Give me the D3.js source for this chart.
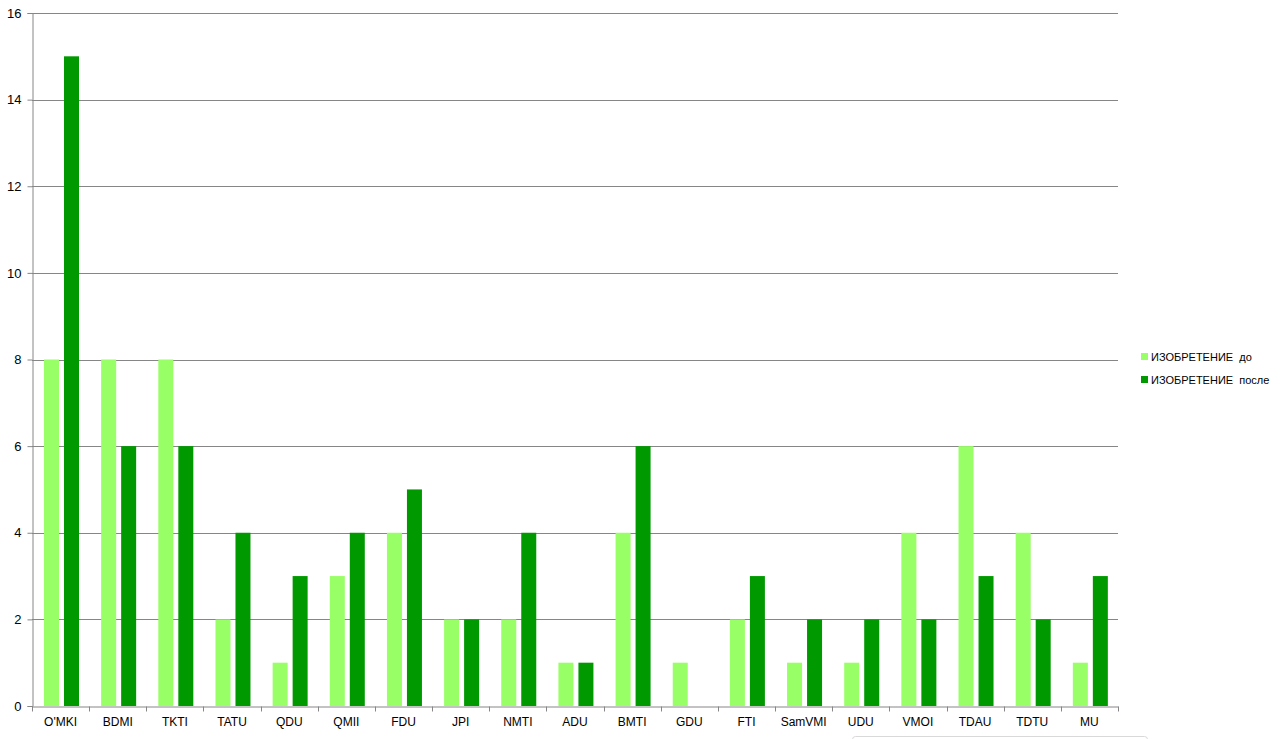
<!DOCTYPE html>
<html>
<head>
<meta charset="utf-8">
<script src="https://cdn.jsdelivr.net/npm/d3@7"></script>
<style>
  body { margin: 0; background: #fff; }
  text { font-family: "Liberation Sans", Arial, sans-serif; fill: #000; }
</style>
</head>
<body>
<div id="chart"></div>
<script>
let categories = ["O'MKI", "BDMI", "TKTI", "TATU", "QDU", "QMII", "FDU", "JPI", "NMTI", "ADU",
                  "BMTI", "GDU", "FTI", "SamVMI", "UDU", "VMOI", "TDAU", "TDTU", "MU"];
let before = [8, 8, 8, 2, 1, 3, 4, 2, 2, 1, 4, 1, 2, 1, 1, 4, 6, 4, 1];
let after = [15, 6, 6, 4, 3, 4, 5, 2, 4, 1, 6, 0, 3, 2, 2, 2, 3, 2, 3];
let seriesNames = ["ИЗОБРЕТЕНИЕ  до", "ИЗОБРЕТЕНИЕ  после"];
let yTicks = [0, 2, 4, 6, 8, 10, 12, 14, 16];

let svgWidth = 1282;
let svgHeight = 739;
let margin = { top: 13, left: 32, right: 164, bottom: 33 };
let chartWidth = svgWidth - margin.left - margin.right;   // 1086
let chartHeight = svgHeight - margin.top - margin.bottom; // 693

let colors = ["#99ff66", "#009900"];

let svg = d3.select("#chart").append("svg")
  .attr("width", svgWidth)
  .attr("height", svgHeight);

let g = svg.append("g")
  .attr("transform", `translate(${margin.left}, ${margin.top})`);

let x = d3.scaleBand()
  .domain(categories)
  .range([0, chartWidth]);

let inner = d3.scaleBand()
  .domain([0, 1])
  .range([12, 47])
  .paddingInner(0.25);

let y = d3.scaleLinear()
  .domain([0, 16])
  .range([chartHeight, 0]);

// gridlines
g.append("g")
  .selectAll("line")
  .data(yTicks.filter(d => d > 0))
  .enter().append("line")
  .attr("x1", 0)
  .attr("x2", chartWidth)
  .attr("y1", d => Math.round(y(d)) + 0.5)
  .attr("y2", d => Math.round(y(d)) + 0.5)
  .attr("stroke", "#868686");

// bars
let rows = categories.map((c, i) => ({ cat: c, vals: [before[i], after[i]] }));
let groups = g.selectAll(".grp")
  .data(rows)
  .enter().append("g")
  .attr("transform", d => `translate(${x(d.cat)}, 0)`);

groups.selectAll("rect")
  .data(d => d.vals.map((v, k) => ({ k: k, v: v })))
  .enter().append("rect")
  .attr("x", d => inner(d.k))
  .attr("width", inner.bandwidth())
  .attr("y", d => y(d.v))
  .attr("height", d => chartHeight - y(d.v))
  .attr("fill", d => colors[d.k]);

// y axis
let leftAxis = d3.axisLeft(y).tickValues(yTicks).tickSize(5).tickPadding(6);
let ya = g.append("g").attr("transform", "translate(0.5,0)").call(leftAxis);
ya.select(".domain").attr("stroke", "#868686");
ya.selectAll(".tick line").attr("stroke", "#868686");
ya.selectAll("text").attr("font-size", "13px").attr("font-family", "Liberation Sans, Arial, sans-serif");

// x axis
let bottomAxis = d3.axisBottom(x).tickSize(0).tickPadding(11);
let xa = g.append("g").attr("transform", `translate(0, ${chartHeight + 0.5})`).call(bottomAxis);
xa.select(".domain").attr("stroke", "#868686");
xa.selectAll("text").attr("font-size", "12px").attr("font-family", "Liberation Sans, Arial, sans-serif");
xa.selectAll(".sep")
  .data(d3.range(categories.length + 1))
  .enter().append("line")
  .attr("x1", i => Math.round(i * x.step()) + 0.5)
  .attr("x2", i => Math.round(i * x.step()) + 0.5)
  .attr("y1", 0)
  .attr("y2", 5)
  .attr("stroke", "#868686");

// legend
let legend = svg.append("g").attr("transform", "translate(1141, 353)");
seriesNames.forEach((name, i) => {
  let row = legend.append("g").attr("transform", `translate(0, ${i * 23})`);
  row.append("rect").attr("width", 7).attr("height", 7).attr("fill", colors[i]);
  row.append("text")
    .attr("x", 10)
    .attr("y", 4)
    .attr("dy", "0.35em")
    .attr("font-size", "11px")
    .style("white-space", "pre")
    .text(name);
});

// faint box edge at bottom right
svg.append("rect")
  .attr("x", 852.5).attr("y", 736.5)
  .attr("width", 295).attr("height", 20)
  .attr("rx", 3)
  .attr("fill", "none")
  .attr("stroke", "#d9d9d9");
</script>
</body>
</html>
